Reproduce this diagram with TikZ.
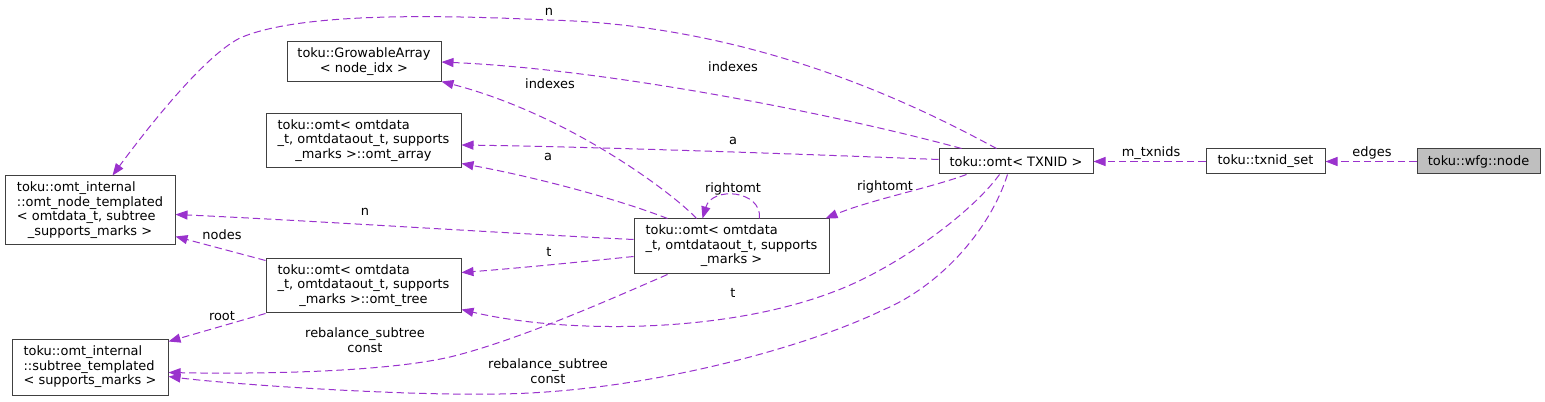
\documentclass[tikz,border=0pt]{standalone}
\usepackage{fontspec}
\setmainfont{DejaVu Sans}
\usetikzlibrary{arrows.meta,calc}
\definecolor{edgec}{HTML}{9A32CD}
\definecolor{boxc}{HTML}{404040}
\definecolor{fillc}{HTML}{BFBFBF}
\newcommand{\threeL}[3]{\begin{tabular}{@{}l@{}}#1\\#2\\\multicolumn{1}{@{}c@{}}{#3}\end{tabular}}
\newcommand{\fourL}[4]{\begin{tabular}{@{}l@{}}#1\\#2\\#3\\\multicolumn{1}{@{}c@{}}{#4}\end{tabular}}
\newcommand{\twoC}[2]{\begin{tabular}{@{}c@{}}#1\\#2\end{tabular}}
\tikzset{
  box/.style={draw=boxc, line width=0.75pt, fill=white, inner sep=0pt, anchor=center,
    font=\fontsize{9.7}{10.9}\selectfont},
  edge/.style={draw=edgec, line width=0.75pt, dash pattern=on 5.5pt off 3pt,
    -{Triangle[length=9pt,width=6.8pt]}, fill=none},
  lbl/.style={inner sep=0pt, font=\fontsize{9.7}{10.9}\selectfont, align=center}
}
\begin{document}
\begin{tikzpicture}[x=0.75pt,y=-0.75pt]
\useasboundingbox (0,0) rectangle (1545,402);
% nodes
\node[box, minimum width=115.5pt, minimum height=30pt] (GA) at (364,62) {\twoC{toku::GrowableArray}{< node\_idx >}};
\node[box, minimum width=146.25pt, minimum height=40.5pt] (ARR) at (363.5,141) {\threeL{toku::omt< omtdata}{\_t, omtdataout\_t, supports}{\_marks >::omt\_array}};
\node[box, minimum width=127.5pt, minimum height=51.75pt] (NODE) at (90,210.5) {\fourL{toku::omt\_internal}{::omt\_node\_templated}{< omtdata\_t, subtree}{\_supports\_marks >}};
\node[box, minimum width=146.25pt, minimum height=40.5pt] (TREE) at (363.5,286) {\threeL{toku::omt< omtdata}{\_t, omtdataout\_t, supports}{\_marks >::omt\_tree}};
\node[box, minimum width=117pt, minimum height=41.25pt] (SUB) at (90,367.5) {\threeL{toku::omt\_internal}{::subtree\_templated}{< supports\_marks >}};
\node[box, minimum width=146.25pt, minimum height=41.25pt] (OMT) at (731.5,246.5) {\threeL{toku::omt< omtdata}{\_t, omtdataout\_t, supports}{\_marks >}};
\node[box, minimum width=115.5pt, minimum height=18.75pt] (TX) at (1016,161.5) {toku::omt< TXNID >};
\node[box, minimum width=89.25pt, minimum height=18.75pt] (SET) at (1265.5,161.5) {toku::txnid\_set};
\node[box, fill=fillc, minimum width=92.25pt, minimum height=18.75pt] (WFG) at (1478.5,161.5) {toku::wfg::node};
% edges
\draw[edge] (WFG.west) -- (SET.east);
\draw[edge] (SET.west) -- (TX.east);
\draw[edge] ($(TX.north west)+(58,0)$) .. controls (925,110) and (760,25) .. (548,20) .. controls (440,15) and (300,12) .. (240,38) .. controls (200,58) and (135,145) .. ($(NODE.north west)+(108,0)$);
\draw[edge] ($(TX.north west)+(23,0)$) .. controls (850,118) and (620,70) .. (GA.east);
\draw[edge] ($(TX.west)+(0,-2)$) .. controls (800,154) and (600,147) .. ($(ARR.east)+(0,4)$);
\draw[edge] ($(TX.south west)+(28,0)$) .. controls (930,188) and (870,200) .. ($(OMT.north east)+(-4,0)$);
\draw[edge] ($(TX.south west)+(61,0)$) .. controls (970,215) and (893,270) .. (833,292) .. controls (720,335) and (560,333) .. ($(TREE.south east)+(0,-4)$);
\draw[edge] ($(TX.south west)+(69,0)$) .. controls (990,230) and (940,286) .. (883,310) .. controls (800,350) and (640,392) .. (500,394) .. controls (400,396) and (228,384) .. ($(SUB.north east)+(0,37)$);
\draw[edge] ($(OMT.north west)+(63,0)$) .. controls (675,195) and (570,115) .. ($(GA.south east)+(0,-1)$);
\draw[edge] ($(OMT.north west)+(34,0)$) .. controls (620,200) and (540,178) .. ($(ARR.south east)+(0,-5)$);
\draw[edge] ($(OMT.north west)+(126,0)$) .. controls (762,190) and (712,186) .. ($(OMT.north west)+(69,0)$);
\draw[edge] ($(OMT.north west)+(0,21)$) .. controls (500,233) and (300,220) .. ($(NODE.north east)+(0,39)$);
\draw[edge] ($(OMT.north west)+(0,38)$) .. controls (580,262) and (520,268) .. ($(TREE.north east)+(0,14)$);
\draw[edge] ($(OMT.south west)+(34,0)$) .. controls (620,295) and (520,340) .. (450,357) .. controls (380,373) and (250,374) .. ($(SUB.north east)+(0,33)$);
\draw[edge] ($(TREE.north west)+(0,2)$) -- ($(NODE.north east)+(0,61)$);
\draw[edge] (TREE.south west) -- ($(SUB.north east)+(0,2)$);
% labels
\node[lbl] (L1) at (1372,153) {edges};
\node[lbl] (L2) at (1151,153) {m\_txnids};
\node[lbl] (L3) at (549,12) {n};
\node[lbl] (L4) at (733,67) {indexes};
\node[lbl] (L5) at (733,141) {a};
\node[lbl] (L6) at (885,187) {rightomt};
\node[lbl] (L7) at (733,293) {t};
\node[lbl] (L8) at (548,371) {rebalance\_subtree\\const};
\node[lbl] (L9) at (550,84) {indexes};
\node[lbl] (L10) at (548,157) {a};
\node[lbl] (L11) at (733,189) {rightomt};
\node[lbl] (L12) at (365,212) {n};
\node[lbl] (L13) at (549,252) {t};
\node[lbl] (L14) at (365,340) {rebalance\_subtree\\const};
\node[lbl] (L15) at (222,235) {nodes};
\node[lbl] (L16) at (222,316) {root};
\end{tikzpicture}
\end{document}
